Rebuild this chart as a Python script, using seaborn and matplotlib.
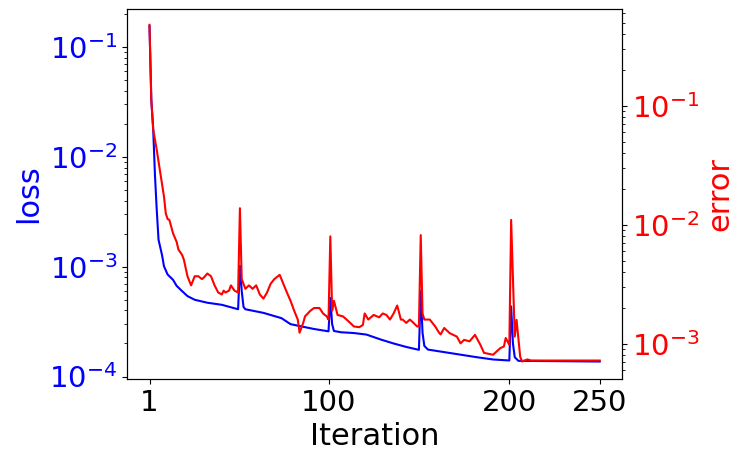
import matplotlib
matplotlib.use("Agg")
import matplotlib.pyplot as plt
import seaborn as sns

# loss (left axis, blue)
loss_iter = [1, 2, 3, 4, 5, 6, 8, 9, 11, 14, 16, 19, 22, 26, 33, 41, 50,
             51, 52, 53, 54, 64, 74, 79, 85, 92, 100,
             101, 102, 103, 107, 114, 121, 129, 136, 143, 150,
             151, 152, 153, 155, 169, 182, 191, 200,
             201, 202, 203, 205, 250]
loss_vals = [0.155, 0.033, 0.0187, 0.0069, 0.0033, 0.00176, 0.00126, 0.00101, 0.00085,
             0.00076, 0.00067, 0.0006, 0.00054, 0.0005, 0.00047, 0.00045, 0.00041,
             0.00102, 0.0006, 0.00043, 0.00041, 0.00038, 0.00034, 0.0003, 0.000286,
             0.000271, 0.000258,
             0.00052, 0.0003, 0.00026, 0.000253, 0.000249, 0.000241, 0.000217, 0.0002,
             0.000186, 0.000175,
             0.0006, 0.00025, 0.00019, 0.000176, 0.000162, 0.00015, 0.000143, 0.00014,
             0.000435, 0.0002, 0.00015, 0.000139, 0.000137]

# error (right axis, red)
err_iter = [1, 2, 3, 5, 7, 8, 9, 10, 11, 12, 14, 16, 17, 19, 20, 22, 24, 26, 28,
            30, 31, 33, 35, 37, 39, 41, 42, 43, 45, 46, 48, 50,
            51, 52, 54, 56, 58, 60, 62, 64, 66, 68, 70, 73, 75, 77, 79, 81, 83,
            84, 86, 87, 90, 92, 95, 97, 99, 100,
            101, 102, 103, 105, 108, 110, 112, 114, 117, 119, 120, 122, 125, 128,
            130, 132, 134, 136, 138, 140, 141, 143, 145, 147, 149, 150,
            151, 152, 153, 156, 159, 161, 162, 164, 167, 171, 173, 175, 178, 181,
            184, 186, 191, 195, 197, 198, 200,
            201, 203, 204, 206, 207, 210, 212, 250]
err_vals = [0.48, 0.112, 0.064, 0.0427, 0.0272, 0.0217, 0.0173, 0.0125, 0.0112, 0.011,
            0.0085, 0.0072, 0.0062, 0.0056, 0.0051, 0.0037, 0.0031, 0.0037, 0.0037,
            0.0035, 0.0036, 0.0039, 0.0037, 0.0031, 0.0027, 0.0026, 0.0028, 0.0027,
            0.0028, 0.0031, 0.0028, 0.0027,
            0.0138, 0.0035, 0.0029, 0.0031, 0.0029, 0.0031, 0.0026, 0.0024, 0.0027,
            0.0032, 0.0035, 0.0038, 0.0032, 0.0027, 0.0023, 0.0019, 0.0016,
            0.00124, 0.0015, 0.0017, 0.0019, 0.002, 0.002, 0.0018, 0.0017, 0.0016,
            0.008, 0.0019, 0.0023, 0.00175, 0.0017, 0.0016, 0.0015, 0.0014, 0.00138,
            0.00144, 0.0018, 0.0016, 0.00175, 0.00167,
            0.0018, 0.00175, 0.0016, 0.0018, 0.0021, 0.0016, 0.0016, 0.0015, 0.0016,
            0.0015, 0.0014, 0.0014,
            0.0082, 0.0018, 0.0016, 0.0016, 0.0014, 0.00125, 0.0012, 0.00136, 0.00123,
            0.00115, 0.00101, 0.00108, 0.00105, 0.00119,
            0.00098, 0.00084, 0.00081, 0.00092, 0.00095, 0.00112, 0.00098,
            0.011, 0.00115, 0.00159, 0.00078, 0.00071, 0.00074, 0.000724, 0.000724]

x_ticks = [1, 100, 200, 250]

fig = plt.figure(figsize=(7.47, 4.62), dpi=100)
ax = fig.add_axes([0.170, 0.180, 0.663, 0.800])
ax2 = ax.twinx()

sns.lineplot(x=loss_iter, y=loss_vals, ax=ax, color="blue", linewidth=1.5)
sns.lineplot(x=err_iter, y=err_vals, ax=ax2, color="red", linewidth=1.5)

ax.set_yscale("log")
ax2.set_yscale("log")
ax.set_xlim(-11.45, 262.45)
ax.set_ylim(0.953e-4, 0.221)
ax2.set_ylim(5.08e-4, 0.649)

ax.set_xticks(x_ticks)
ax.set_xticklabels([str(t) for t in x_ticks])

ax.set_xlabel("Iteration", fontsize=22)
ax.set_ylabel("loss", color="blue", fontsize=22)
ax2.set_ylabel("error", color="red", fontsize=22)

ax.tick_params(axis="x", labelsize=21)
ax.tick_params(axis="y", labelsize=21, labelcolor="blue")
ax2.tick_params(axis="y", labelsize=21, labelcolor="red")

fig.savefig("out.png", dpi=100)
